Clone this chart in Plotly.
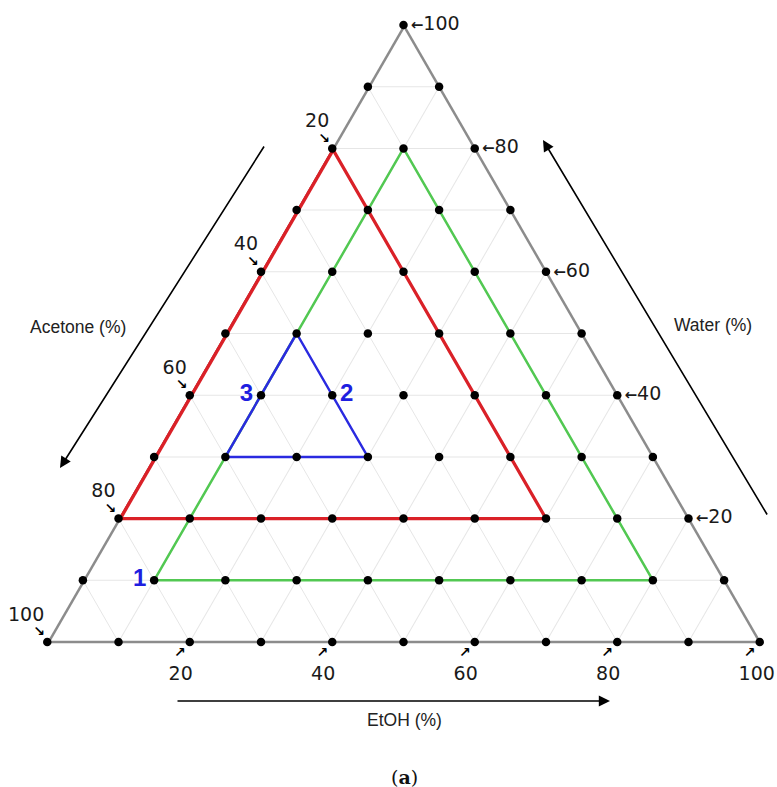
import plotly.graph_objects as go

# ---------------- data ----------------
levels = [0, 10, 20, 30, 40, 50, 60, 70, 80, 90, 100]

red_water = [80, 20, 20, 80]
red_acetone = [20, 80, 20, 20]
red_etoh = [0, 0, 60, 0]

green_water = [80, 10, 10, 80]
green_acetone = [10, 80, 10, 10]
green_etoh = [10, 10, 80, 10]

blue_water = [50, 30, 30, 50]
blue_acetone = [40, 60, 40, 40]
blue_etoh = [10, 10, 30, 10]

sample_labels = ["1", "2", "3"]
sample_water = [10, 40, 40]
sample_acetone = [80, 40, 50]
sample_etoh = [10, 20, 10]
sample_textpos = ["middle left", "middle right", "middle left"]

tick_values = [20, 40, 60, 80, 100]
tick_labels = ["20", "40", "60", "80", "100"]

# left (Water–Acetone) edge of the diagram, from the Water vertex to the Acetone vertex
edge_water = [100, 0]
edge_acetone = [0, 100]
edge_etoh = [0, 0]

# grid points every 10 %
grid_w, grid_a, grid_e = [], [], []
for w in levels:
    for ac in levels:
        if w + ac <= 100:
            grid_w.append(w)
            grid_a.append(ac)
            grid_e.append(100 - w - ac)

NB = "\u00a0"
TXT = "#1a1a1a"
TICKSIZE = 19
GRAY = "#8c8c8c"
RED = "#da2128"
fig = go.Figure()

# left edge drawn as a trace (clipped to the triangle, so double width shows full width inside)
fig.add_trace(go.Scatterternary(a=edge_water, b=edge_acetone, c=edge_etoh, mode="lines",
                                line=dict(color=GRAY, width=5), hoverinfo="skip"))
# the part of the red region that lies on the edge
fig.add_trace(go.Scatterternary(a=red_water[:2], b=red_acetone[:2], c=red_etoh[:2], mode="lines",
                                line=dict(color=RED, width=6.5), hoverinfo="skip"))

fig.add_trace(go.Scatterternary(a=red_water, b=red_acetone, c=red_etoh, mode="lines",
                                line=dict(color=RED, width=3.2), hoverinfo="skip",
                                cliponaxis=False))
fig.add_trace(go.Scatterternary(a=green_water, b=green_acetone, c=green_etoh, mode="lines",
                                line=dict(color="#52c852", width=2.5), hoverinfo="skip",
                                cliponaxis=False))
fig.add_trace(go.Scatterternary(a=blue_water, b=blue_acetone, c=blue_etoh, mode="lines",
                                line=dict(color="#2a2ae0", width=2.5), hoverinfo="skip",
                                cliponaxis=False))
fig.add_trace(go.Scatterternary(a=grid_w, b=grid_a, c=grid_e, mode="markers",
                                marker=dict(color="black", size=8.5), hoverinfo="skip",
                                cliponaxis=False))

# sample numbers
fig.add_trace(go.Scatterternary(a=sample_water, b=sample_acetone, c=sample_etoh,
                                mode="markers+text", text=sample_labels,
                                textposition=sample_textpos,
                                marker=dict(size=11, color="rgba(0,0,0,0)"),
                                textfont=dict(family="Liberation Sans", size=24,
                                              color="#1e1ee0", weight="bold"),
                                cliponaxis=False, hoverinfo="skip"))

# Water ticks (right edge)
fig.add_trace(go.Scatterternary(a=tick_values, b=[0] * 5, c=[100 - v for v in tick_values],
                                mode="markers+text",
                                text=["<span style='font-size:15px'><b>\u2190</b></span>" + t
                                      for t in tick_labels],
                                textposition="middle right",
                                marker=dict(size=10, color="rgba(0,0,0,0)"),
                                textfont=dict(family="DejaVu Sans", size=TICKSIZE, color=TXT),
                                cliponaxis=False, hoverinfo="skip"))

# Acetone ticks (left edge)
fig.add_trace(go.Scatterternary(a=[100 - v for v in tick_values], b=tick_values, c=[0] * 5,
                                mode="markers+text",
                                text=[t + NB * (7 if len(t) == 3 else 5) for t in tick_labels],
                                textposition="top center",
                                marker=dict(size=25, color="rgba(0,0,0,0)"),
                                textfont=dict(family="DejaVu Sans", size=TICKSIZE, color=TXT),
                                cliponaxis=False, hoverinfo="skip"))
fig.add_trace(go.Scatterternary(a=[100 - v for v in tick_values], b=tick_values, c=[0] * 5,
                                mode="markers+text", text=["\u2198"] * 5,
                                textposition="top left",
                                marker=dict(size=2, color="rgba(0,0,0,0)"),
                                textfont=dict(family="DejaVu Sans", size=14, color="black",
                                              weight="bold"),
                                cliponaxis=False, hoverinfo="skip"))

# EtOH ticks (bottom edge)
fig.add_trace(go.Scatterternary(a=[0] * 5, b=[100 - v for v in tick_values], c=tick_values,
                                mode="markers+text",
                                text=[t + NB * (1 if len(t) == 3 else 3) for t in tick_labels],
                                textposition="bottom center",
                                marker=dict(size=36, color="rgba(0,0,0,0)"),
                                textfont=dict(family="DejaVu Sans", size=TICKSIZE, color=TXT),
                                cliponaxis=False, hoverinfo="skip"))
fig.add_trace(go.Scatterternary(a=[0] * 5, b=[100 - v for v in tick_values], c=tick_values,
                                mode="markers+text", text=["\u2197"] * 5,
                                textposition="bottom left",
                                marker=dict(size=5, color="rgba(0,0,0,0)"),
                                textfont=dict(family="DejaVu Sans", size=14, color="black",
                                              weight="bold"),
                                cliponaxis=False, hoverinfo="skip"))

axis_style = dict(showticklabels=False, ticks="", showgrid=True, dtick=10, tick0=0,
                  gridcolor="#e6e6e6", gridwidth=1, showline=True, layer="below traces",
                  linecolor=GRAY, linewidth=2.5, title=dict(text=""))

W, H = 777, 787
fig.update_layout(
    width=W, height=H,
    margin=dict(l=0, r=0, t=0, b=0),
    paper_bgcolor="white",
    showlegend=False,
    font=dict(family="DejaVu Sans", color=TXT),
    ternary=dict(
        sum=100,
        bgcolor="white",
        domain=dict(x=[47 / W, 760 / W], y=[1 - 642 / H, 1 - 25 / H]),
        aaxis=dict(axis_style, showline=False),
        baxis=axis_style, caxis=axis_style,
    ),
)

arrow = dict(showarrow=True, text="", arrowhead=2, arrowsize=1.4, arrowwidth=1.6,
             arrowcolor="black", xref="paper", yref="paper", standoff=0)
fig.add_annotation(x=60 / W, y=1 - 468 / H, ax=205, ay=-323, **arrow)
fig.add_annotation(x=543 / W, y=1 - 140 / H, ax=225, ay=376, **arrow)
fig.add_annotation(x=610 / W, y=1 - 701 / H, ax=-434, ay=0, **arrow)

title_font = dict(family="Liberation Sans", size=17.5, color="#222222")
fig.add_annotation(x=78 / W, y=1 - 327 / H, xanchor="center", yanchor="middle",
                   text="Acetone (%)", showarrow=False,
                   xref="paper", yref="paper", font=title_font)
fig.add_annotation(x=713 / W, y=1 - 325 / H, xanchor="center", yanchor="middle",
                   text="Water (%)", showarrow=False,
                   xref="paper", yref="paper", font=title_font)
fig.add_annotation(x=404 / W, y=1 - 708 / H, xanchor="center", yanchor="top",
                   text="EtOH (%)", showarrow=False,
                   xref="paper", yref="paper", font=title_font)
fig.add_annotation(x=404 / W, y=1 - 764 / H, xanchor="center", yanchor="top",
                   text="(<b>a</b>)", showarrow=False,
                   xref="paper", yref="paper",
                   font=dict(family="DejaVu Serif", size=19, color="#111111"))

fig.write_html("out.html")
